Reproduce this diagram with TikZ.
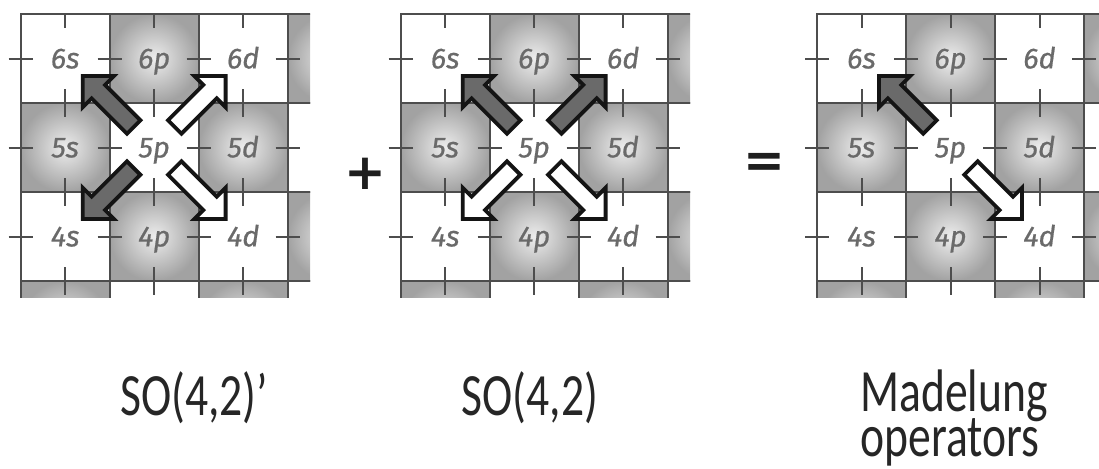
\documentclass[tikz,border=0pt]{standalone}
\usepackage{fontspec}
\newfontfamily\cellfont[FakeBold=0.6]{Fira Sans}
\newfontfamily\capfont[FakeStretch=0.76]{Carlito}
\newfontfamily\signfont{DejaVu Sans}
\usetikzlibrary{calc}

\definecolor{gridline}{HTML}{4D4D4D}
\definecolor{cellgrey}{HTML}{A2A2A2}
\definecolor{cellcentre}{HTML}{EDEDED}
\definecolor{labelgrey}{HTML}{6A6A6A}
\definecolor{arrowdark}{HTML}{6A6A6A}
\definecolor{captiontext}{HTML}{262626}

\tikzset{
  pics/blockarr/.style={code={
    \draw[arrowline, #1] (29,-9.5) -- (79,-9.5) -- (79,-22) -- (101,0)
      -- (79,22) -- (79,9.5) -- (29,9.5) -- cycle;
  }}
}
% block arrow leaving one cell towards another
\newcommand{\diagarrow}[3]{%
  \path let \p1=($(#3)-(#2)$), \n1={atan2(\y1,\x1)} in
    (#2) pic[rotate=\n1] {blockarr={#1}};}

\begin{document}
\begin{tikzpicture}[
    x=0.5pt, y=-0.5pt,
    cell/.style={draw=gridline, line width=1pt, minimum size=44.5pt, inner sep=0pt,
                 shade, text height=9.9pt, text depth=0pt, text=labelgrey,
                 font=\cellfont\itshape\fontsize{14.5pt}{16pt}\selectfont},
    gridtick/.style={draw=gridline, line width=1pt},
    arrowline/.style={draw=black!92, line width=1.9pt, line join=miter},
    darkarrow/.style={fill=arrowdark},
    lightarrow/.style={fill=white},
    opsign/.style={font=\signfont\bfseries\fontsize{25pt}{30pt}\selectfont,
                   text=black!88, inner sep=0pt},
    caplabel/.style={font=\capfont\fontsize{30pt}{36pt}\selectfont,
                     text=captiontext, inner sep=0pt, text height=19pt, text depth=0pt}
  ]
  \useasboundingbox (0,0) rectangle (1099,468);

  % three cut-outs of the orbital table
  \foreach \g/\ox in {1/20.7, 2/400.7, 3/817} {
    \begin{scope}
      \clip (\ox-13,13) rectangle (\ox+289.3,297);
      \foreach \sh/\i in {6/0, 5/1, 4/2, 3/3} {
        \foreach \orb/\j in {s/0, p/1, d/2, f/3} {
          \pgfmathtruncatemacro\odd{mod(\i+\j,2)}
          \ifnum\odd=1 \def\inc{cellcentre}\def\outc{cellgrey}\else\def\inc{white}\def\outc{white}\fi
          \pgfmathtruncatemacro\full{and(\i<3,\j<3)}
          \ifnum\full=1 \def\txt{\sh\orb}\else\def\txt{}\fi
          \node[cell, inner color=\inc, outer color=\outc] (g\g-\sh\orb)
            at ({\ox+44.5+89*\j},{58.5+89*\i}) {\txt};
        }
      }
      % ticks across the grid lines
      \foreach \i in {0,1,2}
        \foreach \j in {0,...,3}
          \draw[gridtick] ({\ox+89*\j-12},{58.5+89*\i}) -- ++(24,0);
      \foreach \j in {0,1,2}
        \foreach \i in {0,...,3}
          \draw[gridtick] ({\ox+44.5+89*\j},{89*\i}) -- ++(0,28);
    \end{scope}
  }

  % operators leaving 5p
  \diagarrow{darkarrow}{g1-5p}{g1-6s}
  \diagarrow{lightarrow}{g1-5p}{g1-6d}
  \diagarrow{darkarrow}{g1-5p}{g1-4s}
  \diagarrow{lightarrow}{g1-5p}{g1-4d}

  \diagarrow{darkarrow}{g2-5p}{g2-6s}
  \diagarrow{darkarrow}{g2-5p}{g2-6d}
  \diagarrow{lightarrow}{g2-5p}{g2-4s}
  \diagarrow{lightarrow}{g2-5p}{g2-4d}

  \diagarrow{darkarrow}{g3-5p}{g3-6s}
  \diagarrow{lightarrow}{g3-5p}{g3-4d}

  \node[opsign] (plus) at (365.7,174) {+};
  \node[opsign] (equals) at (764,165) {=};

  \node[caplabel, anchor=base] (so42p) at (194,415) {SO(4,2)’};
  \node[caplabel, anchor=base] (so42) at (530,415) {SO(4,2)};
  \node[caplabel, anchor=base west] (madelung) at (860,411) {Madelung};
  \node[caplabel, anchor=base west] (operators) at ($(madelung.base west)+(0,45)$) {operators};
\end{tikzpicture}
\end{document}
